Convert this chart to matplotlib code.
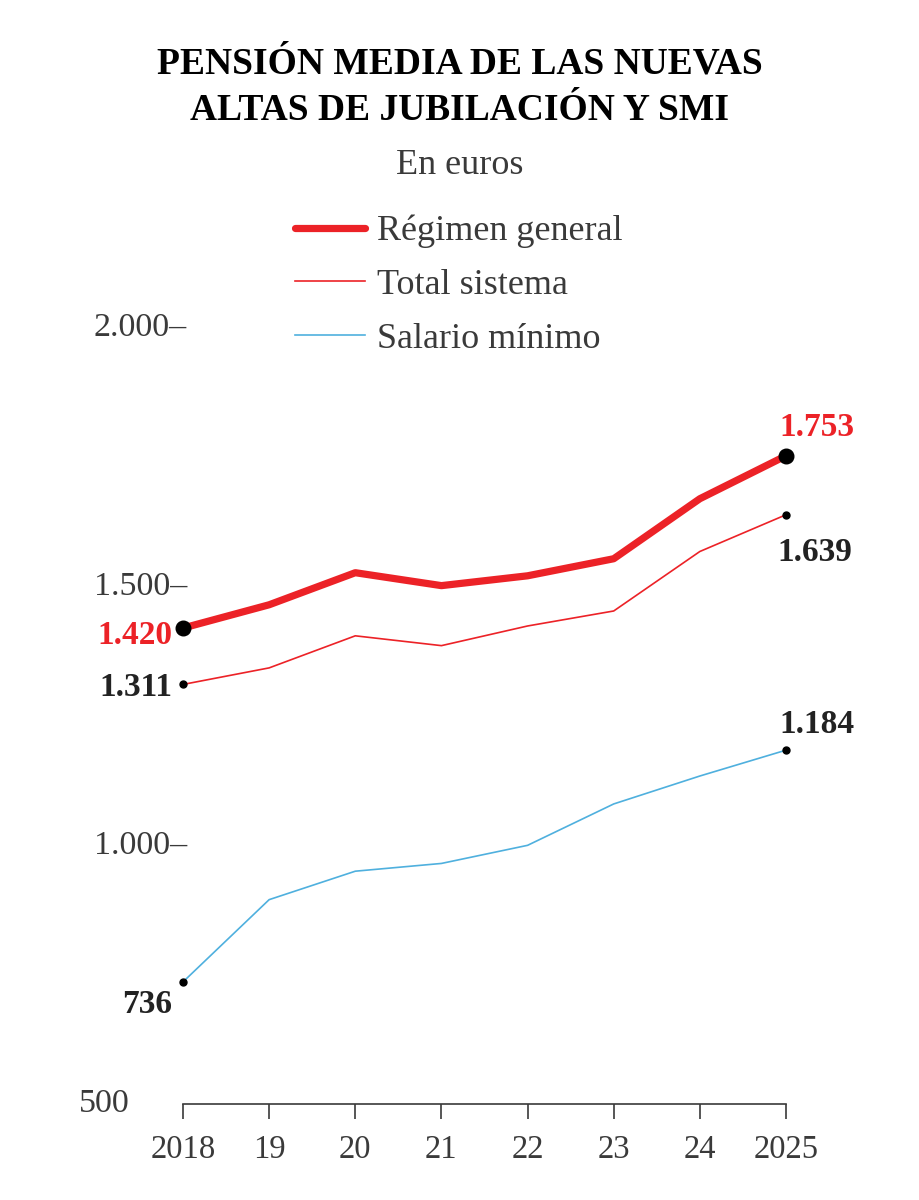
import matplotlib
matplotlib.use('Agg')
import matplotlib.pyplot as plt
import matplotlib.transforms as mtransforms

# data (euros)
years = [2018, 2019, 2020, 2021, 2022, 2023, 2024, 2025]
year_labels = ['2018', '19', '20', '21', '22', '23', '24', '2025']
regimen_general = [1420, 1465, 1527, 1502, 1521, 1554, 1670, 1753]
total_sistema = [1311, 1343, 1405, 1386, 1424, 1453, 1568, 1639]
salario_minimo = [736, 895, 950, 965, 1000, 1080, 1134, 1184]
y_ticks = [500, 1000, 1500, 2000]
y_tick_labels = ['500', '1.000–', '1.500–', '2.000–']

RED = '#ec2227'
BLUE = '#4fb0de'
DARK = '#222222'
GREY = '#3a3a3a'
SERIF = ['Liberation Serif', 'DejaVu Serif']

plt.rcParams['font.family'] = SERIF

fig = plt.figure(figsize=(9.2, 12), dpi=100)
ax = fig.add_axes([183/920, 1 - 1104/1200, (786-183)/920, (1104-328)/1200])

l1, = ax.plot(years, regimen_general, color=RED, lw=5.2, solid_capstyle='round',
              solid_joinstyle='round', label='Régimen general')
l2, = ax.plot(years, total_sistema, color=RED, lw=1.2, label='Total sistema')
l3, = ax.plot(years, salario_minimo, color=BLUE, lw=1.2, label='Salario mínimo')

# end points
ends = [0, -1]
ax.plot([years[i] for i in ends], [regimen_general[i] for i in ends], 'o',
        color='black', ms=10.5, clip_on=False, zorder=5)
ax.plot([years[i] for i in ends], [total_sistema[i] for i in ends], 'o',
        color='black', ms=5, clip_on=False, zorder=5)
ax.plot([years[i] for i in ends], [salario_minimo[i] for i in ends], 'o',
        color='black', ms=5, clip_on=False, zorder=5)


def fmt(v):
    return f'{v:,}'.replace(',', '.')


val_kw = dict(textcoords='offset pixels', fontsize=24, fontweight='bold', annotation_clip=False)
# first year, labels on the left
ax.annotate(fmt(regimen_general[0]), (years[0], regimen_general[0]), xytext=(-11, -7),
            ha='right', va='center', color=RED, **val_kw)
ax.annotate(fmt(total_sistema[0]), (years[0], total_sistema[0]), xytext=(-11, -3),
            ha='right', va='center', color=DARK, **val_kw)
ax.annotate(fmt(salario_minimo[0]), (years[0], salario_minimo[0]), xytext=(-11, -23),
            ha='right', va='center', color=DARK, **val_kw)
# last year
ax.annotate(fmt(regimen_general[-1]), (years[-1], regimen_general[-1]), xytext=(31, 28),
            ha='center', va='center', color=RED, **val_kw)
ax.annotate(fmt(total_sistema[-1]), (years[-1], total_sistema[-1]), xytext=(29, -38),
            ha='center', va='center', color=DARK, **val_kw)
ax.annotate(fmt(salario_minimo[-1]), (years[-1], salario_minimo[-1]), xytext=(31, 26),
            ha='center', va='center', color=DARK, **val_kw)

ax.set_xlim(2018, 2025)
ax.set_ylim(500, 2000)

for s in ['top', 'right', 'left']:
    ax.spines[s].set_visible(False)
ax.spines['bottom'].set_color(GREY)
ax.spines['bottom'].set_linewidth(1.2)

ax.set_xticks(years)
ax.set_xticklabels(year_labels)
ax.tick_params(axis='x', direction='out', length=11, width=1.2, color=GREY,
               labelsize=23.5, labelcolor=GREY, pad=11)
ax.set_yticks([])

# y labels drawn by hand so "500" can sit without the dash
ytrans = mtransforms.blended_transform_factory(fig.transFigure, ax.transData)
for v, lab in zip(y_ticks, y_tick_labels):
    xr = 187/920 if lab.endswith('–') else 130/920
    ax.text(xr, v, lab, transform=ytrans, ha='right', va='center',
            fontsize=24.5, color=GREY, clip_on=False)

fig.text(0.5, 1 - 87/1200, 'PENSIÓN MEDIA DE LAS NUEVAS\nALTAS DE JUBILACIÓN Y SMI',
         ha='center', va='center', fontsize=27, fontweight='bold', color='black',
         linespacing=1.42)
fig.text(0.5, 1 - 165/1200, 'En euros', ha='center', va='center', fontsize=26, color=GREY)

fig.legend(handles=[l1, l2, l3], loc='upper left', bbox_to_anchor=(295/920, 1 - 215/1200),
           frameon=False, fontsize=26, handlelength=1.94, handletextpad=0.33,
           labelspacing=0.56, borderpad=0, borderaxespad=0, labelcolor=GREY)

fig.savefig('out.png', dpi=100)
